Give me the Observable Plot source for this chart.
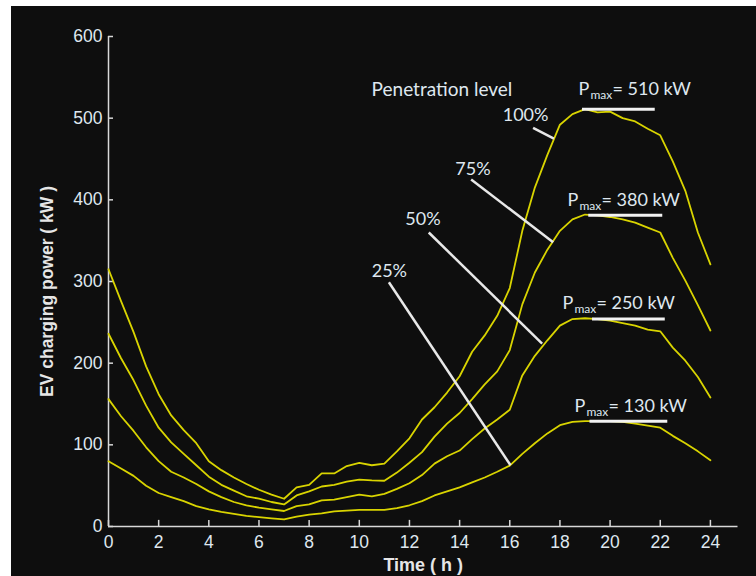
<!DOCTYPE html>
<html><head><meta charset="utf-8">
<script src="https://cdn.jsdelivr.net/npm/d3@7"></script>
<script src="https://cdn.jsdelivr.net/npm/@observablehq/plot@0.6"></script>
<style>
body{margin:0;background:#fff;}
#chart{position:absolute;left:11px;top:6px;}
</style></head><body><div id="chart"></div>
<script>
// time of day (h)
const hours = [0,0.5,1,1.5,2,2.5,3,3.5,4,4.5,5,5.5,6,6.5,7,7.5,8,8.5,9,9.5,10,10.5,11,11.5,12,12.5,13,13.5,14,14.5,15,15.5,16,16.5,17,17.5,18,18.5,19,19.5,20,20.5,21,21.5,22,22.5,23,23.5,24];
// EV charging power (kW) per penetration level
const p100 = [315,276,238,196,162,136,118,102,80,69,60,52,45,39,34,48,51,65,65,74,78,75,77,92,108,131,146,164,184,214,234,258,292,362,415,455,492,505,511,507,508,500,496,487,479,447,411,360,321];
const p75  = [236,206,179,148,121,103,89,75,61,51,44,37,34,30,27,38,43,49,51,55,57.5,56.5,56,66,78,91,110,126,139,156,174,190,216,272,311,339,362,376,382,381,379,376,372,366,360,329,301,271,240];
const p50  = [156,135,117,97,80,67,60,52,43,36,30,26,23,21,19,25,27,32,33,36,39,37,40,46,53,63,77,86,93,107,120,131,143,185,209,228,246,254,255,254,252,249,246,241,239,219,203,183,158];
const p25  = [80,71,62,50,41,36,31,25,21,18,15.5,13,11.5,10,8.6,12,14.5,16,18.5,19.5,20.4,20.4,20.4,22.5,26,31,38,43,48,54,60,67,74.6,89,102,114,124,128,129,129,129,128,126,123.6,121,111,102,92,81];
const levels = ["100%","75%","50%","25%"];
const seriesValues = [p100, p75, p50, p25];
// axis ticks
const xTicks = [0,2,4,6,8,10,12,14,16,18,20,22,24];
const yTicks = [0,100,200,300,400,500,600];
// Pmax annotations
const pmaxValues = [510, 380, 250, 130];
const pmaxLineY  = [511, 381, 254, 129];
const pmaxLineX1 = [18.9, 19.15, 19.3, 19.2];
const pmaxLineX2 = [21.8, 22.1, 22.2, 22.3];
const pmaxLabelX = [18.74, 18.3, 18.1, 18.58];
const pmaxLabelY = [535, 400, 273, 147];
// penetration level labels and leader lines
const levelLabelX = [16.63, 14.53, 12.54, 11.2];
const levelLabelY = [503, 438, 376, 313];
const leadX1 = [16.93, 14.46, 12.77, 11.18];
const leadY1 = [488, 425, 360, 299];
const leadX2 = [17.76, 17.73, 17.29, 16.03];
const leadY2 = [475, 348, 224, 75];

const rows = [];
levels.forEach((lv, i) => hours.forEach((h, j) => rows.push({level: lv, h, v: seriesValues[i][j]})));
const pmax = pmaxValues.map((v, i) => ({v, ly: pmaxLineY[i], x1: pmaxLineX1[i], x2: pmaxLineX2[i], lx: pmaxLabelX[i], lyy: pmaxLabelY[i], rest: "= " + v + " kW"}));
const lvl = levels.map((t, i) => ({t, x: levelLabelX[i], y: levelLabelY[i], x1: leadX1[i], y1: leadY1[i], x2: leadX2[i], y2: leadY2[i]}));

const FG = "#dfe7ef";
const AX = "#d8d8d8";
const YEL = "#d9d400";
const ANNF = "Lato, 'Open Sans', sans-serif";

const chart = Plot.plot({
  width: 745, height: 570,
  marginLeft: 97, marginRight: 18.5, marginTop: 30, marginBottom: 50,
  style: {background: "#0e0e0e", color: FG, fontFamily: "Liberation Sans, Arial, sans-serif"},
  x: {domain: [0, 25.1], ticks: xTicks, tickFormat: d => String(d)},
  y: {domain: [0, 600], ticks: yTicks},
  marks: [
    Plot.axisX(xTicks, {tickSize: 0, tickPadding: 9, fontSize: 17.5, fill: FG, label: null}),
    Plot.axisY(yTicks, {tickSize: 0, tickPadding: 6, fontSize: 17.5, fill: FG, label: null}),
    Plot.ruleX([0], {y1: 0, y2: 600, stroke: AX, strokeWidth: 1.5}),
    Plot.ruleY([0], {x1: 0, x2: 25.1, stroke: AX, strokeWidth: 1.5}),
    Plot.ruleY(yTicks, {y: d => d, x1: 0, x2: 0.2, stroke: AX, strokeWidth: 1.5}),
    Plot.ruleX(xTicks, {x: d => d, y1: 0, y2: 7.5, stroke: AX, strokeWidth: 1.5}),
    Plot.text(["Time ( h )"], {frameAnchor: "bottom", dy: 44, fontSize: 18, fontWeight: "bold", fill: "#e6e6e6", textAnchor: "middle"}),
    Plot.text(["EV charging power ( kW )"], {frameAnchor: "left", dx: -61, dy: 10, rotate: -90, textAnchor: "middle", fontSize: 17.5, fontWeight: "bold", fill: "#e6e6e6"}),
    Plot.line(rows, {x: "h", y: "v", z: "level", stroke: YEL, strokeWidth: 1.8}),
    Plot.link(lvl, {x1: "x1", y1: "y1", x2: "x2", y2: "y2", stroke: "#e8e8e8", strokeWidth: 2.5}),
    Plot.text(lvl, {x: "x", y: "y", text: "t", fontSize: 18, fill: FG, fontFamily: ANNF}),
    Plot.text(["Penetration level"], {x: 10.49, y: 535, textAnchor: "start", fontSize: 19, fill: FG, fontFamily: ANNF}),
    Plot.ruleY(pmax, {y: "ly", x1: "x1", x2: "x2", stroke: "#f2f2f2", strokeWidth: 3}),
    Plot.text(pmax, {x: "lx", y: "lyy", text: d => "P", textAnchor: "start", fontSize: 18, fill: FG, fontFamily: ANNF}),
    Plot.text(pmax, {x: "lx", y: "lyy", text: d => "max", textAnchor: "start", dx: 12, dy: 6, fontSize: 12, fill: FG, fontFamily: ANNF}),
    Plot.text(pmax, {x: "lx", y: "lyy", text: "rest", textAnchor: "start", dx: 34, fontSize: 18, fill: FG, fontFamily: ANNF})
  ]
});
document.getElementById("chart").append(chart);
</script></body></html>
